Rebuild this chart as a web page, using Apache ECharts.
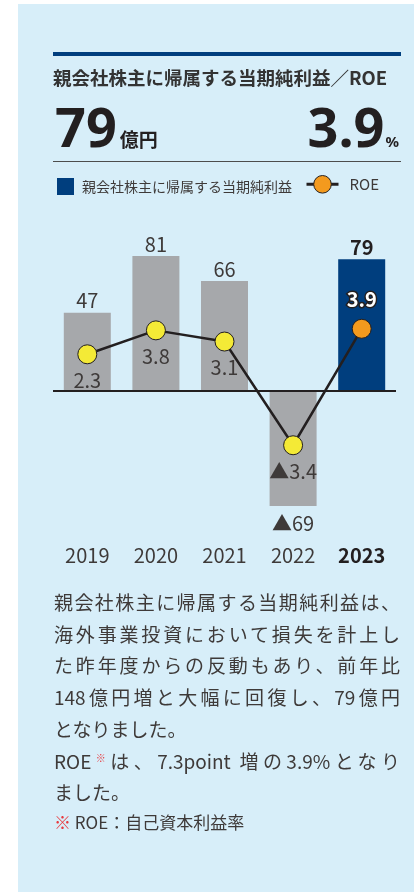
<!DOCTYPE html>
<html lang="ja">
<head>
<meta charset="utf-8">
<script src="https://cdn.jsdelivr.net/npm/echarts@6/dist/echarts.min.js"></script>
<style>
  html, body { margin:0; padding:0; width:414px; height:892px; background:#ffffff; overflow:hidden; }
  body { position:relative; font-family:'Noto Sans CJK JP','Noto Sans',sans-serif; color:#333; }
  #panel { position:absolute; left:18px; top:4px; width:396px; height:888px; background:#d7eef9; }
  #chart { position:absolute; left:0; top:0; width:414px; height:892px; }
  .abs { position:absolute; }
  #topline { left:53px; top:52px; width:348px; height:4px; background:#003e7e; }
  #title { left:53px; top:65px; font-size:18.5px; font-weight:bold; line-height:24px; color:#333; white-space:nowrap; }
  #kpi { left:55px; top:99px; width:344px; line-height:54px; height:54px; color:#231f20; white-space:nowrap; }
  .big { font-family:'Noto Sans',sans-serif; font-weight:bold; font-size:54px; }
  .unit { font-family:'Noto Sans CJK JP',sans-serif; font-weight:bold; font-size:19px; margin-left:3px; }
  .pct { font-family:'Noto Sans',sans-serif; font-weight:bold; font-size:15px; margin-left:1px; }
  #kpiR { position:absolute; right:0; top:0; }
  #grayline { left:53px; top:161px; width:348px; height:1px; background:#4d4d4d; }
  #para { left:54px; top:586px; width:346px; font-size:19px; line-height:31.7px; color:#3e3a39; }
  #para div { white-space:nowrap; }
  #para .j { text-align:justify; text-align-last:justify; white-space:normal; }
  .red { color:#e8383d; }
  sup.red { font-size:10px; vertical-align:top; position:relative; top:-3px; }
  #note { left:54px; top:811px; font-size:17px; line-height:22px; color:#3e3a39; white-space:nowrap; }
</style>
</head>
<body>
<div id="panel"></div>
<div id="chart"></div>
<div class="abs" id="topline"></div>
<div class="abs" id="title">親会社株主に帰属する当期純利益／ROE</div>
<div class="abs" id="kpi"><span class="big">79</span><span class="unit">億円</span><span id="kpiR"><span class="big">3.9</span><span class="pct">%</span></span></div>
<div class="abs" id="grayline"></div>
<div class="abs" id="para">
  <div class="j">親会社株主に帰属する当期純利益は、</div>
  <div class="j">海外事業投資において損失を計上し</div>
  <div class="j">た昨年度からの反動もあり、前年比</div>
  <div class="j">148億円増と大幅に回復し、79億円</div>
  <div>となりました。</div>
  <div class="j">ROE<sup class="red">※</sup>は、7.3point 増の3.9%となり</div>
  <div>ました。</div>
</div>
<div class="abs" id="note"><span class="red">※</span> ROE：自己資本利益率</div>
<script>
const years = ['2019', '2020', '2021', '2022', '2023'];
const netIncome = [47, 81, 66, -69, 79];      // 億円
const roe = [2.3, 3.8, 3.1, -3.4, 3.9];        // %
const barName = '親会社株主に帰属する当期純利益';
const lineName = 'ROE';

const FONT = "'Noto Sans CJK JP','Noto Sans',sans-serif";
const GRAY_BAR = '#a6a8ab';
const BLUE = '#003e7e';
const YELLOW = '#f4ea36';
const ORANGE = '#f39a1e';
const DARK = '#231f20';
const LABEL = '#3e3a39';

function fmtSigned(v) {
  return v < 0 ? '▲' + String(Math.abs(v)) : String(v);
}

const last = years.length - 1;

const barData = netIncome.map((v, i) => {
  const item = { value: v, itemStyle: { color: i === last ? BLUE : GRAY_BAR } };
  if (v < 0) {
    item.label = { position: 'bottom', distance: 7 };
  }
  if (i === last) {
    item.label = { position: 'top', distance: 2, fontWeight: 'bold', color: DARK };
  }
  return item;
});

const lineData = roe.map((v, i) => {
  const item = { value: v };
  if (i === last) {
    item.itemStyle = { color: ORANGE };
    item.label = {
      position: 'top', distance: 9, color: '#ffffff', fontWeight: 'bold',
      textBorderColor: DARK, textBorderWidth: 3
    };
  }
  return item;
});

const chart = echarts.init(document.getElementById('chart'), null, { renderer: 'canvas' });
chart.setOption({
  backgroundColor: 'transparent',
  textStyle: { fontFamily: FONT },
  animation: false,
  legend: [
    {
      left: 57, top: 178, padding: 0,
      itemWidth: 17, itemHeight: 17,
      selectedMode: false,
      data: [{ name: barName, icon: 'rect', itemStyle: { color: BLUE } }],
      textStyle: { fontSize: 14, color: LABEL, fontFamily: FONT, padding: [0, 0, 0, 3] }
    },
    {
      left: 305, top: 175, padding: 0,
      itemWidth: 32, itemHeight: 22,
      selectedMode: false,
      data: [{ name: lineName, itemStyle: { color: ORANGE, borderColor: DARK, borderWidth: 1 }, lineStyle: { color: DARK, width: 3 } }],
      textStyle: { fontSize: 15, color: LABEL, fontFamily: FONT, padding: [0, 0, 0, 6] }
    }
  ],
  grid: { left: 53, right: 18, top: 241, height: 300, containLabel: false },
  xAxis: {
    type: 'category',
    data: years,
    axisLine: { show: false },
    axisTick: { show: false },
    splitLine: { show: false },
    axisLabel: {
      interval: 0,
      hideOverlap: false,
      margin: 4,
      fontSize: 20,
      color: LABEL,
      fontFamily: FONT,
      formatter: (v, i) => i === last ? '{b|' + v + '}' : v,
      rich: { b: { fontSize: 20, fontWeight: 'bold', color: DARK, fontFamily: FONT } }
    }
  },
  yAxis: [
    { type: 'value', min: -90, max: 90, show: false, splitLine: { show: false } },
    { type: 'value', min: -9.4, max: 9.4, show: false, splitLine: { show: false } }
  ],
  series: [
    {
      name: barName,
      type: 'bar',
      yAxisIndex: 0,
      barWidth: 47,
      data: barData,
      itemStyle: { color: GRAY_BAR },
      label: {
        show: true, position: 'top', distance: 2,
        fontSize: 20, color: LABEL, fontFamily: FONT,
        formatter: p => fmtSigned(p.value)
      },
      markLine: {
        silent: true,
        symbol: ['none', 'none'],
        label: { show: false },
        lineStyle: { color: DARK, width: 2, type: 'solid' },
        data: [{ yAxis: 0 }],
        z: 3
      },
      z: 2
    },
    {
      name: lineName,
      type: 'line',
      yAxisIndex: 1,
      data: lineData,
      symbol: 'circle',
      symbolSize: 19,
      lineStyle: { color: DARK, width: 2.5 },
      itemStyle: { color: YELLOW, borderColor: DARK, borderWidth: 1 },
      label: {
        show: true, position: 'bottom', distance: 6,
        fontSize: 20, color: LABEL, fontFamily: FONT,
        formatter: p => fmtSigned(p.value)
      },
      z: 5
    }
  ]
});
</script>
</body>
</html>
